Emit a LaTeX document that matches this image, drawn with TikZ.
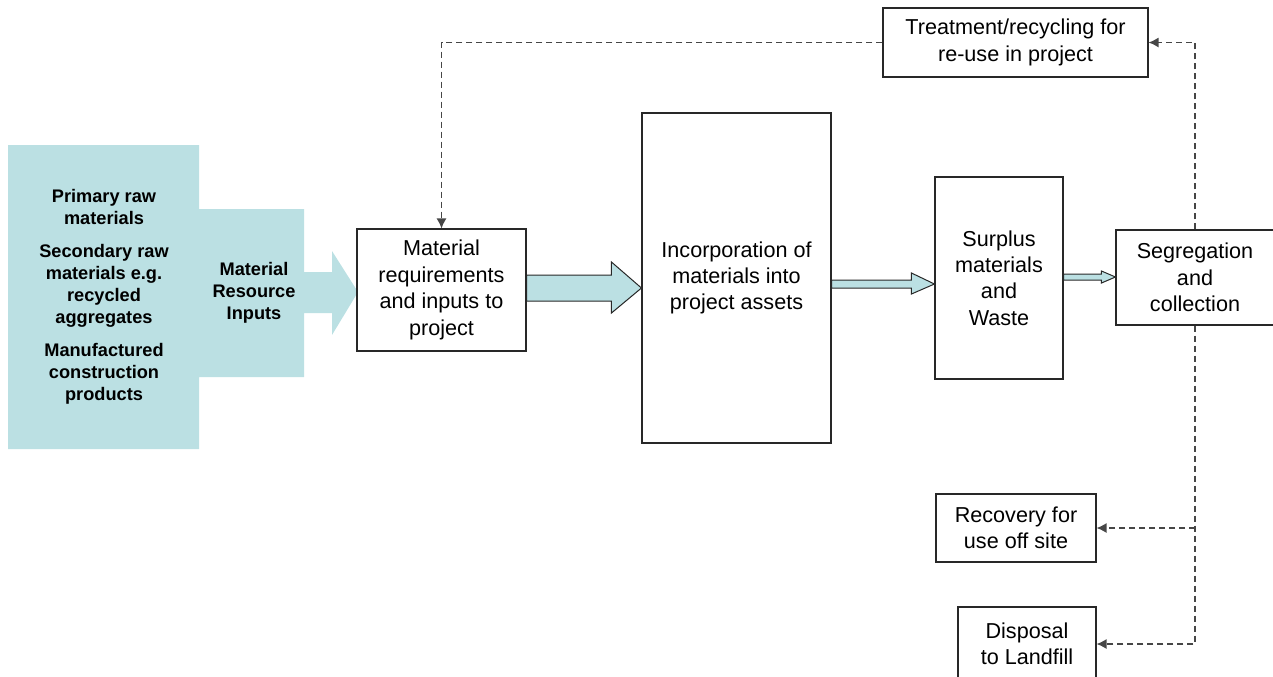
\documentclass[tikz,border=0pt]{standalone}
\usepackage{fontspec}
\setmainfont{Liberation Sans}
\usetikzlibrary{arrows.meta,calc}
\definecolor{tealfill}{RGB}{187,224,227}
\definecolor{boxc}{RGB}{40,40,40}
\definecolor{dashc}{RGB}{70,70,70}
\begin{document}
\begin{tikzpicture}[x=0.5pt,y=-0.5pt,
  box/.style={draw=boxc,line width=0.55pt,fill=white,inner sep=0pt,align=center,
    font=\fontsize{10.8}{13.2}\selectfont},
  srctext/.style={align=center,inner sep=0pt,font=\fontsize{9.1}{11}\selectfont\bfseries},
  dashconn/.style={draw=dashc,line width=0.65pt,dash pattern=on 3pt off 2pt,
    -{Latex[length=5pt,width=5pt]}},
  blockarrow/.style={fill=tealfill,draw=boxc,line width=0.5pt,line join=miter}]
\useasboundingbox (0,0) rectangle (1273,676);
\clip (0,0) rectangle (1273,676);

% source block (teal)
\fill[tealfill] (8,145) -- (199,145) -- (199,209) -- (304,209) -- (304,272)
  -- (332,272) -- (332,251) -- (358,292) -- (332,335) -- (332,313) -- (304,313)
  -- (304,377) -- (199,377) -- (199,449) -- (8,449) -- cycle;
\node[srctext] (src) at (104,297) {Primary raw\\materials\\[5.5pt]
  Secondary raw\\materials e.g.\\recycled\\aggregates\\[5.5pt]
  Manufactured\\construction\\products};
\node[srctext] (mri) at (254,293) {Material\\Resource\\Inputs};

% boxes
\node[box,minimum width=84.5pt,minimum height=61pt] (mat) at (441.5,290)
  {Material\\requirements\\and inputs to\\project};
\node[box,minimum width=94.5pt,minimum height=165pt] (inc) at (736.5,278)
  {Incorporation of\\materials into\\project assets};
\node[box,minimum width=64pt,minimum height=101pt] (sur) at (999,278)
  {Surplus\\materials\\and\\Waste};
\node[box,minimum width=79pt,minimum height=47.5pt] (seg) at (1195,277.5)
  {Segregation\\and\\collection};
\node[box,minimum width=132.5pt,minimum height=34.5pt] (trt) at (1015.5,42.5)
  {Treatment/recycling for\\re-use in project};
\node[box,minimum width=80pt,minimum height=34pt] (rec) at (1016,528)
  {Recovery for\\use off site};
\node[box,minimum width=69pt,minimum height=37pt] (dis) at (1027,644)
  {Disposal\\to Landfill};

% block arrows
\coordinate (a1s) at (mat.east |- 0,288);
\coordinate (a1e) at (inc.west |- 0,288);
\draw[blockarrow] ($(a1s)+(0,-13)$) -- ($(a1e)+(-30,-13)$) -- ($(a1e)+(-30,-26)$)
  -- (a1e) -- ($(a1e)+(-30,25)$) -- ($(a1e)+(-30,13)$) -- ($(a1s)+(0,13)$) -- cycle;
\coordinate (a2s) at (inc.east |- 0,284);
\coordinate (a2e) at (sur.west |- 0,284);
\draw[blockarrow] ($(a2s)+(0,-4)$) -- ($(a2e)+(-23,-4)$) -- ($(a2e)+(-23,-11)$)
  -- (a2e) -- ($(a2e)+(-23,10)$) -- ($(a2e)+(-23,4)$) -- ($(a2s)+(0,4)$) -- cycle;
\coordinate (a3s) at (sur.east |- 0,277);
\coordinate (a3e) at (seg.west |- 0,277);
\draw[blockarrow] ($(a3s)+(0,-3)$) -- ($(a3e)+(-14,-3)$) -- ($(a3e)+(-14,-6)$)
  -- (a3e) -- ($(a3e)+(-14,6)$) -- ($(a3e)+(-14,3)$) -- ($(a3s)+(0,3)$) -- cycle;

% dashed connectors
\draw[dashconn] (seg.north) |- (trt.east);
\draw[dashconn] (trt.west) -| (mat.north);
\draw[dashconn] (seg.south) |- (dis.east);
\draw[dashconn] (seg.south |- rec.east) -- (rec.east);
\end{tikzpicture}
\end{document}
